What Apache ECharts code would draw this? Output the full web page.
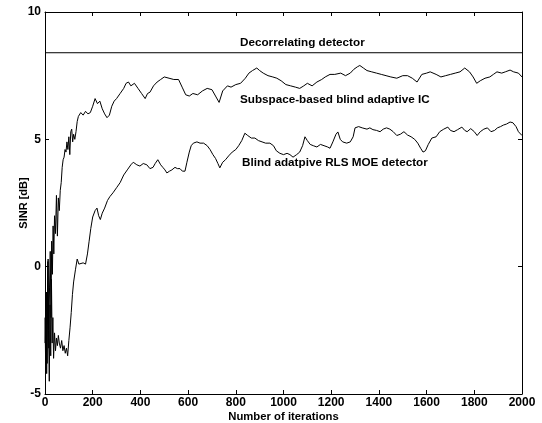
<!DOCTYPE html>
<html>
<head>
<meta charset="utf-8">
<script src="https://cdn.jsdelivr.net/npm/echarts@6/dist/echarts.min.js"></script>
<style>
html,body{margin:0;padding:0;background:#fff;}
#chart{width:542px;height:423px;}
</style>
</head>
<body>
<div id="chart"></div>
<script>
// iterations / SINR [dB]
var subIter = [0,4,7,10,13,16,19,22,25,28,31,34,37,40,44,48,52,56,60,64,68,72,76,80,84,88,92,96,100,104,108,112,116,120,125,130,135,140,150,160,170,180,190,200,210,220,230,240,250,260,270,280,290,300,315,330,340,350,360,375,390,405,420,430,440,455,470,485,500,520,540,560,575,590,605,620,640,660,680,700,715,730,745,765,780,800,820,840,855,870,888,900,915,935,955,972,990,1010,1030,1050,1068,1085,1100,1120,1140,1160,1175,1195,1215,1240,1260,1280,1295,1310,1320,1335,1350,1370,1390,1410,1430,1450,1475,1500,1520,1540,1560,1580,1600,1615,1640,1660,1680,1700,1720,1740,1760,1780,1795,1810,1825,1845,1865,1880,1895,1915,1930,1950,1965,1985,2000];
var subVal = [-3.0,-1.0,-4.2,-1.5,0.3,-3.2,-0.8,0.6,-2.0,1.0,-0.3,1.6,0.5,2.0,1.3,2.8,1.2,2.7,2.2,3.0,3.3,3.9,4.2,4.3,4.6,4.5,4.9,4.6,5.1,4.4,5.3,5.4,4.9,5.2,5.0,5.3,5.7,5.9,6.05,5.95,6.1,6.0,6.05,6.3,6.6,6.4,6.5,6.2,6.0,5.85,5.95,6.3,6.5,6.6,6.8,7.0,7.2,7.25,7.1,7.2,7.0,6.8,6.6,6.8,6.85,7.1,7.25,7.35,7.45,7.4,7.35,7.35,7.05,6.75,6.7,6.8,6.75,6.9,7.0,6.95,6.7,6.45,6.9,7.1,7.05,7.15,7.2,7.4,7.6,7.7,7.8,7.7,7.6,7.5,7.45,7.4,7.3,7.15,7.1,7.05,7.0,7.1,7.2,7.1,7.25,7.35,7.45,7.55,7.55,7.6,7.5,7.6,7.75,7.85,7.9,7.8,7.7,7.65,7.6,7.55,7.5,7.45,7.4,7.5,7.5,7.4,7.25,7.55,7.6,7.65,7.55,7.45,7.5,7.55,7.6,7.65,7.8,7.65,7.45,7.2,7.3,7.4,7.45,7.55,7.65,7.6,7.65,7.72,7.65,7.6,7.45];

var moeIter = [0,3,6,9,12,15,18,21,24,27,30,33,36,40,44,48,52,56,60,65,70,75,80,85,90,95,100,105,110,115,120,128,135,142,150,160,170,178,185,192,200,210,218,225,232,240,250,262,272,285,300,315,330,345,360,370,385,398,412,427,440,453,462,473,485,494,503,511,522,532,545,555,566,576,587,595,605,613,622,637,650,665,680,692,704,715,725,733,745,757,770,785,800,812,825,838,850,865,880,895,910,925,943,958,970,985,1000,1015,1027,1040,1055,1068,1080,1090,1100,1112,1125,1140,1155,1170,1185,1195,1207,1220,1228,1238,1248,1265,1280,1292,1300,1315,1330,1350,1362,1375,1390,1405,1418,1432,1446,1460,1475,1490,1505,1520,1535,1550,1563,1575,1585,1595,1607,1622,1640,1655,1672,1689,1700,1715,1730,1748,1760,1770,1785,1800,1812,1825,1840,1855,1870,1885,1897,1910,1922,1935,1950,1962,1975,1985,2000];
var moeVal = [-2.0,-4.0,-1.0,-3.8,0.2,-2.5,-4.5,-1.5,-3.5,-0.5,-3.0,-2.0,-3.6,-2.6,-3.3,-2.8,-3.1,-2.7,-3.0,-3.2,-2.9,-3.3,-3.1,-3.4,-3.2,-3.5,-2.9,-2.4,-1.8,-1.1,-0.6,-0.1,0.3,0.1,0.05,0.15,0.1,0.5,1.0,1.5,1.95,2.2,2.3,2.0,1.85,2.1,2.3,2.6,2.75,2.9,3.1,3.3,3.6,3.8,4.0,4.1,4.0,3.95,4.05,4.0,3.85,3.9,4.05,4.2,4.0,3.9,3.8,3.68,3.75,3.8,3.9,3.85,3.85,3.75,3.75,4.1,4.5,4.75,4.85,4.9,4.85,4.85,4.75,4.6,4.4,4.25,4.05,3.88,4.1,4.2,4.35,4.5,4.6,4.75,4.95,5.24,5.15,5.05,5.05,4.95,4.9,4.85,4.85,4.75,4.55,4.45,4.4,4.45,4.4,4.3,4.4,4.5,4.75,5.1,4.95,4.8,4.75,4.7,4.8,4.75,4.7,4.65,4.9,5.2,5.29,5.0,4.9,4.85,4.9,5.1,5.45,5.5,5.45,5.4,5.45,5.38,5.35,5.3,5.4,5.45,5.4,5.3,5.15,5.2,5.3,5.17,5.1,5.0,4.85,4.65,4.5,4.55,4.8,5.05,5.1,5.3,5.4,5.48,5.35,5.3,5.38,5.48,5.35,5.3,5.42,5.3,5.15,5.3,5.4,5.45,5.3,5.35,5.45,5.5,5.56,5.6,5.68,5.65,5.5,5.3,5.15];

var decorrIter = [0,2000];
var decorrVal = [8.4,8.4];

var xTicks = [0,2000,200];
var yTicks = [-5,10,5];

function pairs(xs,ys){
	var out=[];
	for(var i=0;i<xs.length;i++){out.push([xs[i],ys[i]]);}
	return out;
}

var lbl={fontFamily:'Liberation Sans',fontWeight:'bold',fontSize:12,color:'#000'};
var tickStyle={show:true,inside:true,length:4,lineStyle:{color:'#000',width:1}};
var lineAx={show:true,onZero:false,lineStyle:{color:'#000',width:1}};

var chart=echarts.init(document.getElementById('chart'));
var option={
	animation:false,
	backgroundColor:'#fff',
	grid:{left:45,right:20,top:12,bottom:29,containLabel:false,outerBoundsMode:'none'},
	xAxis:[{
		type:'value',min:xTicks[0],max:xTicks[1],interval:xTicks[2],
		axisLine:lineAx,axisTick:tickStyle,splitLine:{show:false},
		axisLabel:Object.assign({margin:3,formatter:function(v){return String(v);}},lbl),
		name:'Number of iterations',nameLocation:'middle',nameGap:17,nameMoveOverlap:false,
		nameTextStyle:Object.assign({},lbl,{fontSize:11.3})
	},{
		type:'value',position:'top',min:xTicks[0],max:xTicks[1],interval:xTicks[2],
		axisLine:lineAx,axisTick:tickStyle,axisLabel:{show:false},splitLine:{show:false}
	}],
	yAxis:[{
		type:'value',min:yTicks[0],max:yTicks[1],interval:yTicks[2],
		axisLine:lineAx,axisTick:tickStyle,splitLine:{show:false},
		axisLabel:Object.assign({margin:4},lbl),
		name:'SINR [dB]',nameLocation:'middle',nameGap:16,nameMoveOverlap:false,
		nameTextStyle:Object.assign({},lbl,{fontSize:11})
	},{
		type:'value',position:'right',min:yTicks[0],max:yTicks[1],interval:yTicks[2],
		axisLine:lineAx,axisTick:tickStyle,axisLabel:{show:false},splitLine:{show:false}
	}],
	series:[{
		type:'line',name:'Decorrelating detector',data:pairs(decorrIter,decorrVal),
		showSymbol:false,lineStyle:{color:'#000',width:1}
	},{
		type:'line',name:'Subspace-based blind adaptive IC',data:pairs(subIter,subVal),
		showSymbol:false,lineStyle:{color:'#000',width:1}
	},{
		type:'line',name:'Blind adatpive RLS MOE detector',data:pairs(moeIter,moeVal),
		showSymbol:false,lineStyle:{color:'#000',width:1}
	}],
	graphic:[
		{type:'text',left:240,top:37,style:{text:'Decorrelating detector',font:'bold 11.7px "Liberation Sans"',fill:'#000'}},
		{type:'text',left:240,top:94,style:{text:'Subspace-based blind adaptive IC',font:'bold 11.7px "Liberation Sans"',fill:'#000'}},
		{type:'text',left:242,top:157,style:{text:'Blind adatpive RLS MOE detector',font:'bold 11.7px "Liberation Sans"',fill:'#000'}}
	]
};
chart.setOption(option);
</script>
</body>
</html>
